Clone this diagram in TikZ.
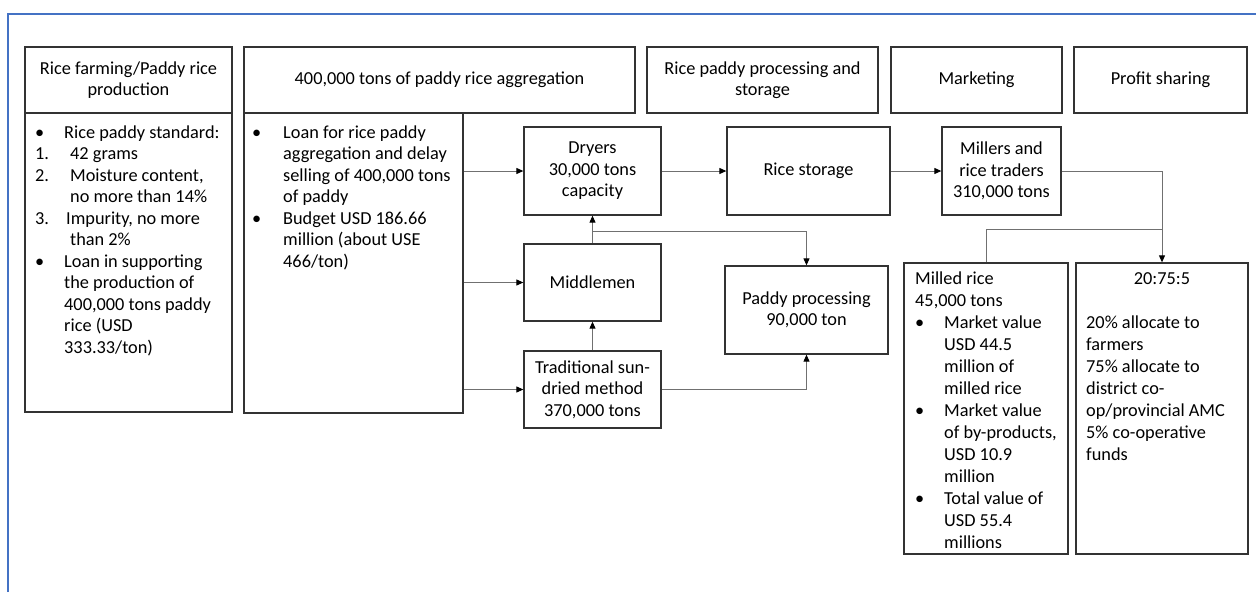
\documentclass[tikz,border=0pt]{standalone}
\usepackage{fontspec}
\setmainfont{Carlito}
\usetikzlibrary{arrows.meta,calc}
\definecolor{boxline}{HTML}{333333}
\definecolor{frameblue}{HTML}{4472C4}
\definecolor{wire}{HTML}{707070}
\newcommand\rbody{\fontsize{18.3}{21.5}\selectfont}
\newcommand\rbodywide{\fontsize{18.3}{22}\selectfont}
\begin{document}
\begin{tikzpicture}[x=1pt,y=-1pt,
  box/.style={draw=boxline, line width=1.3pt, inner sep=0pt, align=center, font=\rbody},
  txt/.style={inner sep=0pt, font=\rbody},
  wire/.style={draw=wire, line width=1pt},
  arr/.style={wire, -{Triangle[length=7pt,width=6pt,color=black]}}]
\useasboundingbox (0,0) rectangle (1256,592);
% outer frame
\draw[frameblue, line width=1.5pt] (8,592) -- (8,14) -- (1256,14);

% stage headers
\node[box, minimum width=207pt, minimum height=66pt] (h1) at (128.5,80) {Rice farming/Paddy rice\\production};
\node[box, minimum width=391pt, minimum height=66pt] (h2) at (439.5,80) {400,000 tons of paddy rice aggregation};
\node[box, minimum width=231pt, minimum height=66pt] (h3) at (762.5,80) {Rice paddy processing and\\storage};
\node[box, minimum width=171pt, minimum height=66pt] (h4) at (976.5,80) {Marketing};
\node[box, minimum width=173pt, minimum height=66pt] (h5) at (1160.5,80) {Profit sharing};

% description boxes
\node[box, minimum width=207pt, minimum height=299pt] (b1) at (128.5,262.5) {};
\node[box, minimum width=219pt, minimum height=300pt] (b2) at (353.5,263) {};
\node[txt, anchor=base west] (b1txt) at (35,138) {\begin{tabular}[t]{@{}p{29pt}@{}l@{}}
\textbullet & Rice paddy standard:\\
1. & \hspace{6pt}42 grams\\
2. & \hspace{6pt}Moisture content,\\
 & \hspace{6pt}no more than 14\%\\
3. & \hspace{2pt}Impurity, no more\\
 & \hspace{6pt}than 2\%\\
\textbullet & Loan in supporting\\
 & the production of\\
 & 400,000 tons paddy\\
 & rice (USD\\
 & 333.33/ton)
\end{tabular}};
\node[txt, anchor=base west] (b2txt) at (252,138) {\begin{tabular}[t]{@{}p{31pt}@{}l@{}}
\textbullet & Loan for rice paddy\\
 & aggregation and delay\\
 & selling of 400,000 tons\\
 & of paddy\\
\textbullet & Budget USD 186.66\\
 & million (about USE\\
 & 466/ton)
\end{tabular}};

% process boxes
\node[box, minimum width=137pt, minimum height=88pt] (dryers) at (592.5,171) {Dryers\\30,000 tons\\capacity};
\node[box, minimum width=163pt, minimum height=88pt] (storage) at (808.5,171) {Rice storage};
\node[box, minimum width=119pt, minimum height=88pt] (millers) at (1001.5,171) {Millers and\\rice traders\\310,000 tons};
\node[box, minimum width=137pt, minimum height=77pt] (middle) at (592.5,282.5) {Middlemen};
\node[box, minimum width=137pt, minimum height=77pt] (trad) at (592.5,389.5) {Traditional sun-\\dried method\\370,000 tons};
\node[box, minimum width=163pt, minimum height=88pt] (paddy) at (806.5,310) {Paddy processing\\90,000 ton};

% outcome boxes
\node[box, minimum width=164pt, minimum height=291pt] (milled) at (986,408.5) {};
\node[box, minimum width=172pt, minimum height=291pt] (profit) at (1162,408.5) {};
\node[txt, font=\rbodywide, anchor=base west] (milledtxt) at (915,284) {\begin{tabular}[t]{@{}p{29pt}@{}l@{}}
\multicolumn{2}{@{}l@{}}{Milled rice}\\
\multicolumn{2}{@{}l@{}}{45,000 tons}\\
\textbullet & Market value\\
 & USD 44.5\\
 & million of\\
 & milled rice\\
\textbullet & Market value\\
 & of by-products,\\
 & USD 10.9\\
 & million\\
\textbullet & Total value of\\
 & USD 55.4\\
 & millions
\end{tabular}};
\node[txt, anchor=base] (ratio) at (1162,284) {20:75:5};
\node[txt, font=\rbodywide, anchor=base west] (sharetxt) at (1086,328) {\begin{tabular}[t]{@{}l@{}}
20\% allocate to\\
farmers\\
75\% allocate to\\
district co-\\
op/provincial AMC\\
5\% co-operative\\
funds
\end{tabular}};

% connectors
\draw[arr] (dryers.west -| b2.east) -- (dryers.west);
\draw[arr] (middle.west -| b2.east) -- (middle.west);
\draw[arr] (trad.west -| b2.east) -- (trad.west);
\draw[arr] (dryers.east) -- (storage.west);
\draw[arr] (storage.east) -- (millers.west);
\draw[arr] (middle.north) -- (dryers.south);
\coordinate (split1) at ($(dryers.south)!0.586!(middle.north)$);
\draw[arr] (split1) -| (paddy.north);
\draw[arr] (trad.north) -- (middle.south);
\draw[arr] (trad.east) -| (paddy.south);
\draw[arr] (millers.east) -| (profit.north);
\coordinate (split2) at ($(millers.east -| profit.north)!0.641!(profit.north)$);
\draw[wire] (split2) -| (milled.north);
\end{tikzpicture}
\end{document}
